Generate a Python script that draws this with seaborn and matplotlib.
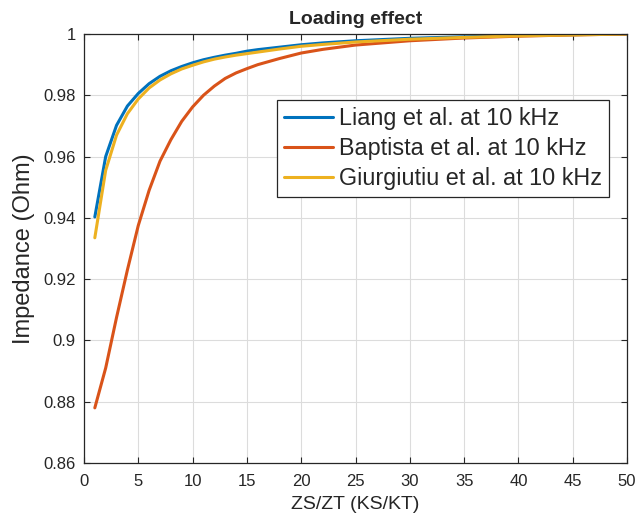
import numpy as np
import pandas as pd
import matplotlib
matplotlib.use("Agg")
import matplotlib.pyplot as plt
import seaborn as sns

# Stiffness / impedance ratio ZS/ZT (KS/KT)
ratio = [1, 2, 3, 4, 5, 6, 7, 8, 9, 10, 11, 12, 13, 14, 15, 16, 18, 20,
         22, 25, 30, 35, 40, 45, 50]

# Normalised impedance for each model at 10 kHz
liang = [0.9403, 0.9600, 0.9702, 0.9765, 0.9806, 0.9838, 0.9862, 0.9880,
         0.9894, 0.9906, 0.9916, 0.9924, 0.9931, 0.9937, 0.9944, 0.9949,
         0.9957, 0.9965, 0.9971, 0.9978, 0.9986, 0.9991, 0.9995, 0.9998,
         1.0000]
baptista = [0.8780, 0.8910, 0.9075, 0.9230, 0.9375, 0.9490, 0.9585, 0.9655,
            0.9715, 0.9762, 0.9800, 0.9830, 0.9855, 0.9873, 0.9887, 0.9900,
            0.9920, 0.9938, 0.9950, 0.9964, 0.9978, 0.9987, 0.9993, 0.9997,
            1.0000]
giurgiutiu = [0.9335, 0.9555, 0.9670, 0.9740, 0.9788, 0.9824, 0.9850, 0.9870,
              0.9886, 0.9898, 0.9909, 0.9918, 0.9925, 0.9931, 0.9936, 0.9941,
              0.9951, 0.9960, 0.9966, 0.9974, 0.9983, 0.9989, 0.9994, 0.9997,
              1.0000]

labels = ["Liang et al. at 10 kHz", "Baptista et al. at 10 kHz",
          "Giurgiutiu et al. at 10 kHz"]
colors = ["#0072BD", "#D95319", "#EDB120"]

x_ticks = list(range(0, 51, 5))
y_ticks = [0.86, 0.88, 0.90, 0.92, 0.94, 0.96, 0.98, 1.0]
y_tick_labels = ["0.86", "0.88", "0.9", "0.92", "0.94", "0.96", "0.98", "1"]

df = pd.concat([
    pd.DataFrame({"ratio": ratio, "impedance": vals, "model": name})
    for name, vals in zip(labels, [liang, baptista, giurgiutiu])
], ignore_index=True)

sns.set_style("ticks")
plt.rcParams["font.family"] = ["Liberation Sans", "DejaVu Sans"]

fig = plt.figure(figsize=(6.36, 5.21), dpi=100)
ax = fig.add_axes([0.132, 0.1113, 0.854, 0.8234])

sns.lineplot(data=df, x="ratio", y="impedance", hue="model",
             hue_order=labels, palette=colors, linewidth=2.2, ax=ax,
             legend=True)

ax.set_xlim(0, 50)
ax.set_ylim(0.86, 1.0)
ax.set_xticks(x_ticks)
ax.set_yticks(y_ticks)
ax.set_yticklabels(y_tick_labels)
ax.grid(True, color="#dcdcdc", linewidth=0.8)
ax.set_axisbelow(True)

for side in ["top", "right", "bottom", "left"]:
    ax.spines[side].set_visible(True)
    ax.spines[side].set_color("#262626")
    ax.spines[side].set_linewidth(0.9)
ax.tick_params(direction="in", length=4, width=0.8, colors="#262626",
               top=True, right=True, labelsize=12)
ax.tick_params(axis="x", pad=8)
ax.tick_params(axis="y", pad=6)

ax.set_xlabel("ZS/ZT (KS/KT)", fontsize=14, color="#262626", labelpad=5)
ax.set_ylabel("Impedance (Ohm)", fontsize=17, color="#262626", labelpad=6)
ax.set_title("Loading effect", fontsize=14, fontweight="bold", pad=7)

leg = ax.legend(loc="upper left", bbox_to_anchor=(0.355, 0.846),
                fontsize=16.8, frameon=True, fancybox=False,
                edgecolor="#262626", framealpha=1, borderpad=0.3,
                handlelength=2.1, handletextpad=0.25, labelspacing=0.3,
                borderaxespad=0)
leg.get_frame().set_linewidth(0.9)

fig.savefig("out.png", dpi=100)
